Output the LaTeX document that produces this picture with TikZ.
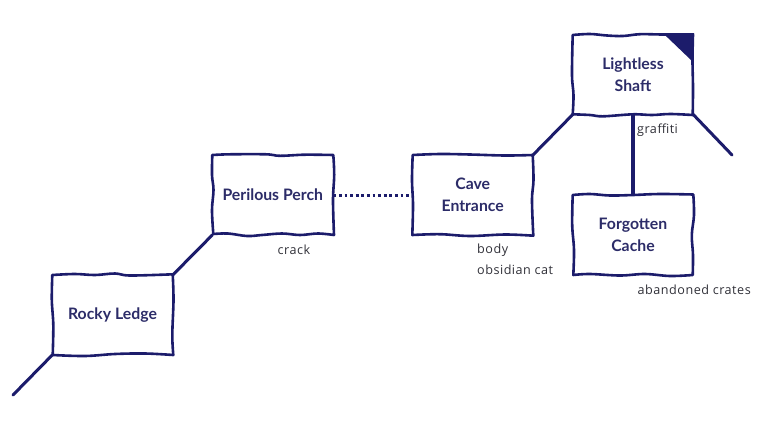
\documentclass[tikz,border=0pt]{standalone}
\usepackage{fontspec}
\setmainfont{Lato}
\newfontfamily\labelfont[LetterSpace=4]{Open Sans}
\definecolor{ink}{HTML}{1C1C6B}
\definecolor{txt}{HTML}{2C2C68}
\definecolor{lab}{HTML}{303038}
\tikzset{
  room/.style={rectangle,inner sep=0pt,outer sep=0pt,align=center,text=txt,
    font=\bfseries\fontsize{15.8}{21.5}\selectfont},
  edge/.style={draw=ink,line width=3pt,line cap=round},
  wobble/.style={draw=ink,line width=2.6pt,line join=round},
  note/.style={inner sep=0pt,anchor=west,text=lab,font=\labelfont\fontsize{12.6}{14}\selectfont},
  x=1pt,y=-1pt
}
\begin{document}
\begin{tikzpicture}
\useasboundingbox (0,0) rectangle (763,421);
% rooms (named anchors for connectors)
\node[room,minimum width=120.5pt,minimum height=80pt] (shaft) at (633,74.5) {Lightless\\Shaft};
\node[room,minimum width=120.5pt,minimum height=80pt] (cache) at (633,235) {Forgotten\\Cache};
\node[room,minimum width=120.5pt,minimum height=80pt] (cave) at (472.7,195) {Cave\\Entrance};
\node[room,minimum width=121pt,minimum height=80pt] (perch) at (272.8,195) {Perilous Perch};
\node[room,minimum width=120.5pt,minimum height=80pt] (ledge) at (112.5,315) {Rocky Ledge};
\coordinate (stubA) at (13,395);
\coordinate (stubB) at (732,155);
% connectors
\draw[edge] (stubA) -- (ledge.south west);
\draw[edge] (ledge.north east) -- (perch.south west);
\draw[edge] (cave.north east) -- (shaft.south west);
\draw[edge] (shaft.south east) -- (stubB);
\draw[edge,line cap=butt,line width=3.4pt] (shaft.south) -- (cache.north);
\draw[draw=ink,line width=3pt,line cap=butt,dash pattern=on 2.8pt off 2.8pt] (perch.east) -- (cave.west);
% hand-drawn outlines
\draw[wobble] plot[smooth,tension=.6] coordinates {(572.7,35)(590,34)(607,35.5)(623,36)(640,34.2)(663,34.5)(693,34.5)}
  -- plot[smooth,tension=.6] coordinates {(693,34.5)(692.5,60)(693,88)(692.7,115)}
  -- plot[smooth,tension=.6] coordinates {(692.7,115)(670,114)(652,115)(633,114.3)(603,116.3)(590,115)(572.7,114.3)}
  -- plot[smooth,tension=.6] coordinates {(572.7,114.3)(573.5,95)(572,75)(572.7,35)} -- cycle;
\fill[ink] (663,33.2) -- (694,33.2) -- (693.6,62.5) -- cycle;
\draw[wobble] plot[smooth,tension=.6] coordinates {(212.3,155)(230,154.3)(266,154.3)(280,155.8)(305,154.7)(333.3,155)}
  -- plot[smooth,tension=.6] coordinates {(333.3,155)(334.2,175)(333,200)(334,235)}
  -- plot[smooth,tension=.6] coordinates {(334,235)(318,233.5)(300,235)(282,233.5)(262,235)(247,236)(228,233.5)(213.3,234)}
  -- plot[smooth,tension=.6] coordinates {(213.3,234)(212,210)(213.5,190)(212,175)(212.3,155)} -- cycle;
\draw[wobble] plot[smooth,tension=.6] coordinates {(412.7,155)(440,154)(470,154.5)(505,155.5)(532.7,155)}
  -- plot[smooth,tension=.6] coordinates {(532.7,155)(533.5,180)(532,200)(533.3,235.7)}
  -- plot[smooth,tension=.6] coordinates {(533.3,235.7)(505,234.5)(470,236)(440,234.2)(412.3,235)}
  -- plot[smooth,tension=.6] coordinates {(412.3,235)(413,205)(412,180)(412.7,155)} -- cycle;
\draw[wobble] plot[smooth,tension=.6] coordinates {(572.7,195)(590,194)(610,195.5)(633,195)(660,194)(693.3,194.5)}
  -- plot[smooth,tension=.6] coordinates {(693.3,194.5)(694,215)(691.8,235)(693,255)(692.7,275)}
  -- plot[smooth,tension=.6] coordinates {(692.7,275)(670,276)(645,274)(620,275.5)(590,274)(573.3,275)}
  -- plot[smooth,tension=.6] coordinates {(573.3,275)(574,250)(572.2,225)(572.7,195)} -- cycle;
\draw[wobble] plot[smooth,tension=.6] coordinates {(52.3,275)(75,274)(95,275)(115,273.5)(130,275.5)(172.7,274.3)}
  -- plot[smooth,tension=.6] coordinates {(172.7,274.3)(173.5,300)(172.3,335)(173.3,355)}
  -- plot[smooth,tension=.6] coordinates {(173.3,355)(145,353.5)(115,354)(85,356)(52.7,355)}
  -- plot[smooth,tension=.6] coordinates {(52.7,355)(53.3,325)(51.8,300)(52.3,275)} -- cycle;
% labels
\node[note] (lgraffiti) at (637,130.5) {graffiti};
\node[note] (lcrack) at (277.5,250) {crack};
\node[note] (lbody) at (477,250) {body};
\node[note] (lcat) at (477,270) {obsidian cat};
\node[note] (lcrates) at (637.5,290) {abandoned crates};
\end{tikzpicture}
\end{document}
